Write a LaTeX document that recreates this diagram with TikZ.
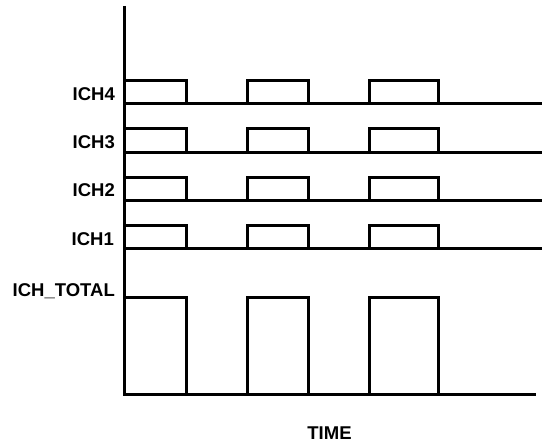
\documentclass[tikz,border=0pt]{standalone}
\usepackage{fontspec}
\setmainfont{Liberation Sans}
\tikzset{
  wave/.style={
    line width=3pt,
    line join=miter
  },
  ch-label/.style={anchor=base east, inner sep=0pt, font=\fontsize{18.5}{20}\selectfont\bfseries},
  time-label/.style={anchor=base, inner sep=0pt, font=\fontsize{18.5}{20}\selectfont\bfseries}
}
% one channel: #1 low level, #2 high level
\newcommand{\pulses}[2]{
  \draw[wave] (124,#1) -- (542,#1);
  \draw[wave] (124,#2) -- (186,#2) -- (186,#1);
  \draw[wave] (247,#1) -- (247,#2) -- (308.5,#2) -- (308.5,#1);
  \draw[wave] (369,#1) -- (369,#2) -- (438,#2) -- (438,#1);
}

\begin{document}
\begin{tikzpicture}[x=1pt,y=-1pt]
  \useasboundingbox (0,0) rectangle (542,444);
  % Axes
  \coordinate (ytop) at (124,6);
  \coordinate (origin) at (124,394.3);
  \coordinate (xend) at (536,394.3);
  \draw[wave] (ytop) -- (origin) -- (xend);
  % Channels
  \pulses{104}{80.3}
  \pulses{152.3}{128.7}
  \pulses{200.7}{177.3}
  \pulses{249}{225.3}
  % Total
  \draw[wave] (124,297.3) -- (186,297.3) -- (186,394.3);
  \draw[wave] (247,394.3) -- (247,297.3) -- (308.5,297.3) -- (308.5,394.3);
  \draw[wave] (369,394.3) -- (369,297.3) -- (438,297.3) -- (438,394.3);
  % Labels
  \node[ch-label] (ich4) at (115,100.7) {ICH4};
  \node[ch-label] (ich3) at (115,148.7) {ICH3};
  \node[ch-label] (ich2) at (115,196.7) {ICH2};
  \node[ch-label] (ich1) at (114,245) {ICH1};
  \node[ch-label] (ichtotal) at (115,296) {ICH\_TOTAL};
  \node[time-label] (time) at (329.5,439.3) {TIME};
\end{tikzpicture}
\end{document}
